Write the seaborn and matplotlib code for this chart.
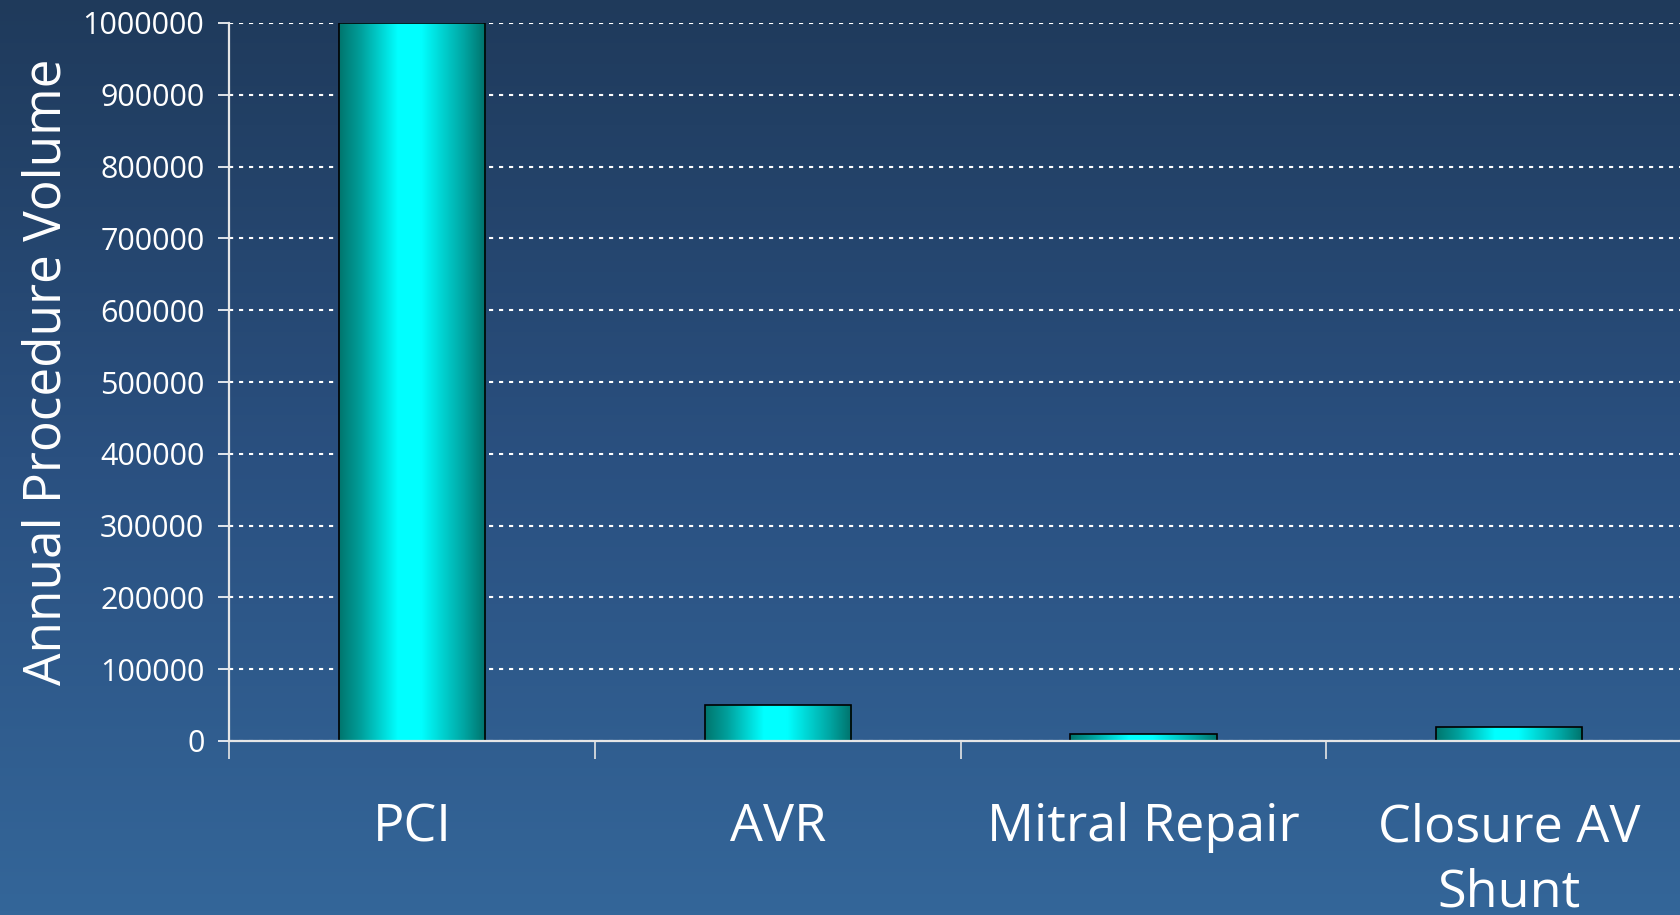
import numpy as np
import matplotlib
matplotlib.use("Agg")
import matplotlib.pyplot as plt
from matplotlib.colors import LinearSegmentedColormap
import seaborn as sns

categories = ["PCI", "AVR", "Mitral Repair", "Closure AV\nShunt"]
volumes = [1000000, 50000, 10000, 20000]
y_ticks = [0, 100000, 200000, 300000, 400000, 500000, 600000, 700000, 800000, 900000, 1000000]
y_label = "Annual Procedure Volume"

sns.set_style("white")
plt.rcParams["font.family"] = ["Open Sans", "DejaVu Sans"]

W, H = 1681, 915
fig = plt.figure(figsize=(W / 100, H / 100), dpi=100)

# background vertical gradient
bg = fig.add_axes([0, 0, 1, 1], zorder=0)
bg_cmap = LinearSegmentedColormap.from_list("bg", ["#1f3a5b", "#2a5080", "#346699"])
bg.imshow(np.linspace(0, 1, 256).reshape(-1, 1), aspect="auto", cmap=bg_cmap,
          extent=[0, 1, 0, 1], origin="upper")
bg.set_axis_off()

left = 229.4 / W
right = (229.4 + 4 * 365.6) / W
bottom = (H - 741) / H
top = (H - 23) / H
ax = fig.add_axes([left, bottom, right - left, top - bottom], zorder=1)
ax.set_facecolor("none")

sns.barplot(x=categories, y=volumes, width=0.4, color="#00cccc",
            edgecolor="black", linewidth=1.2, ax=ax, zorder=3)

# horizontal cylinder-like gradient on bars
bar_cmap = LinearSegmentedColormap.from_list(
    "bar", [(0.0, "#00756d"), (0.15, "#00a09c"), (0.40, "#00ffff"),
            (0.56, "#00ffff"), (0.85, "#00a6a3"), (1.0, "#00726b")])
grad = np.linspace(0, 1, 256).reshape(1, -1)
for p in list(ax.patches):
    x0, y0 = p.get_x(), p.get_y()
    w, h = p.get_width(), p.get_height()
    im = ax.imshow(grad, aspect="auto", cmap=bar_cmap,
                   extent=[x0, x0 + w, y0, y0 + h], zorder=3.5)
    im.set_clip_path(p)
    p.set_facecolor("none")
    p.set_zorder(4)

ax.set_xlim(-0.5, 3.5)
ax.set_ylim(0, 1000000)
ax.set_yticks(y_ticks)
ax.set_yticklabels([str(v) for v in y_ticks])

ax.grid(axis="y", color="white", linestyle=(0, (2, 2.8)), linewidth=1.5, zorder=1)
ax.grid(axis="x", visible=False)
ax.set_axisbelow(True)

for s in ["top", "right"]:
    ax.spines[s].set_visible(False)
for s in ["left", "bottom"]:
    ax.spines[s].set_color("#e6e6e6")
    ax.spines[s].set_linewidth(1.6)
    ax.spines[s].set_zorder(5)

ax.tick_params(axis="y", colors="white", labelsize=22, length=8, width=1.2,
               pad=10, direction="out", left=True)
ax.tick_params(axis="x", which="major", length=0, pad=44, labelsize=37.5,
               labelcolor="white")
ax.set_xticks([-0.5, 0.5, 1.5, 2.5], minor=True)
ax.tick_params(axis="x", which="minor", length=13, width=1.2, color="#e6e6e6",
               direction="out", bottom=True)
for t in ax.get_xticklabels():
    t.set_multialignment("center")
    t.set_linespacing(1.36)

ax.set_xlabel("")
ax.set_ylabel(y_label, fontsize=37, color="white")
ax.yaxis.label.set_va("center")
ax.yaxis.set_label_coords((47 - 229.4) / (4 * 365.6), 0.514)

fig.savefig("out.png", dpi=100)
